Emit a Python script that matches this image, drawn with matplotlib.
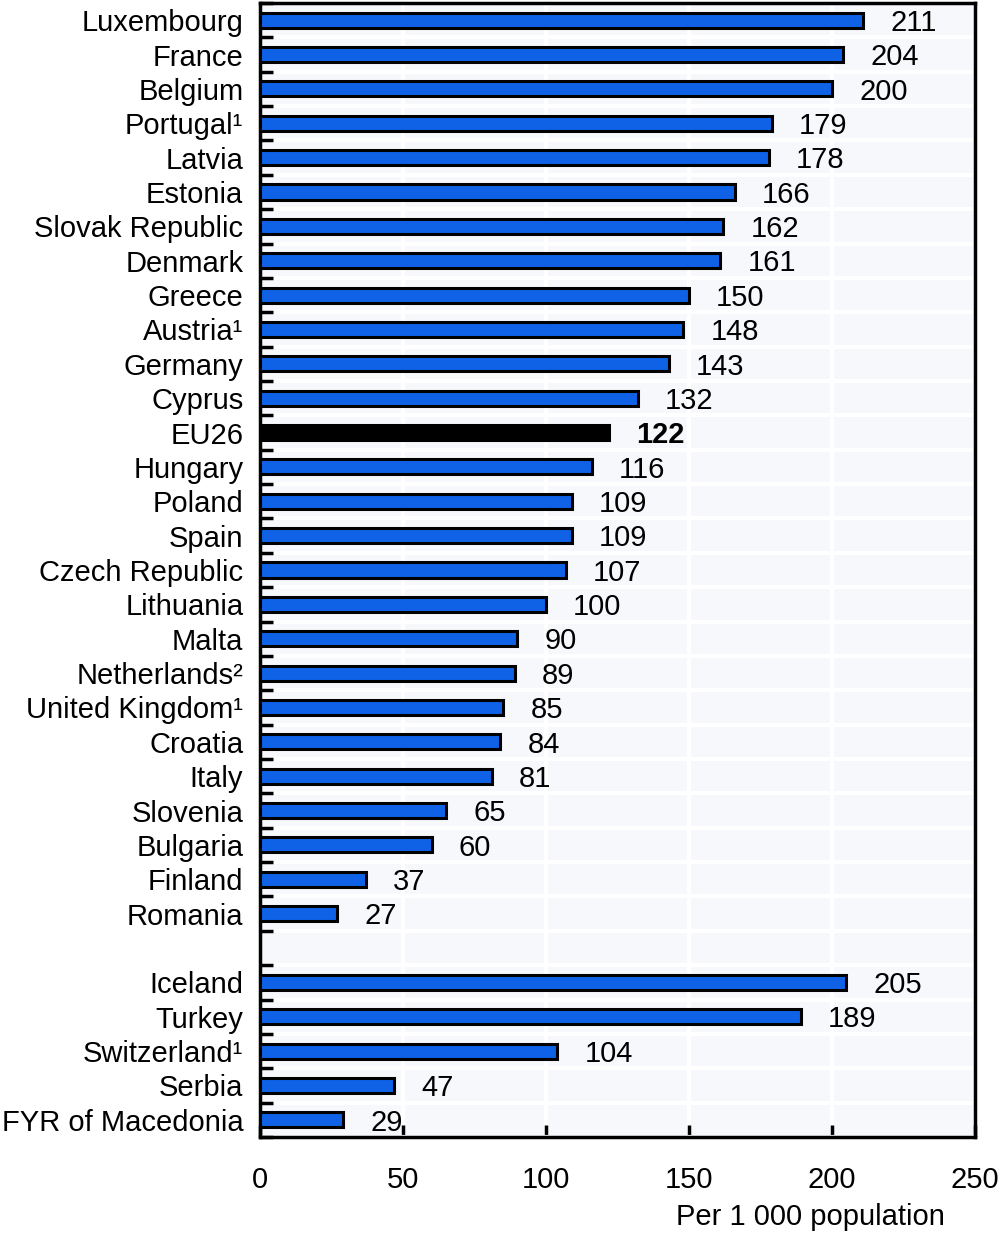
import matplotlib
matplotlib.use("Agg")
import matplotlib.pyplot as plt
from matplotlib import font_manager as fm
import numpy as np

names = [f.name for f in fm.fontManager.ttflist]
fam = "Liberation Sans Narrow" if "Liberation Sans Narrow" in names else "Liberation Sans"
plt.rcParams['font.family'] = [fam, 'DejaVu Sans']
FS = 21 if fam == "Liberation Sans" else 24

eu_countries = ["Luxembourg", "France", "Belgium", "Portugal¹", "Latvia", "Estonia",
                "Slovak Republic", "Denmark", "Greece", "Austria¹", "Germany", "Cyprus",
                "EU26", "Hungary", "Poland", "Spain", "Czech Republic", "Lithuania", "Malta",
                "Netherlands²", "United Kingdom¹", "Croatia", "Italy", "Slovenia", "Bulgaria",
                "Finland", "Romania"]
eu_values = [211, 204, 200, 179, 178, 166, 162, 161, 150, 148, 143, 132, 122, 116, 109,
             109, 107, 100, 90, 89, 85, 84, 81, 65, 60, 37, 27]
other_countries = ["Iceland", "Turkey", "Switzerland¹", "Serbia", "FYR of Macedonia"]
other_values = [205, 189, 104, 47, 29]
xticks = [0, 50, 100, 150, 200, 250]

labels = eu_countries + [""] + other_countries
values = eu_values + [None] + other_values
n = len(labels)
pos = np.arange(n)

fig = plt.figure(figsize=(10, 12.35), dpi=100)
ax = fig.add_axes([0.26, 1 - 1137/1235, 0.715, (1137 - 3)/1235])
ax.set_facecolor("#f7f8fc")

blue = "#0f62e6"
for p, lab, v in zip(pos, labels, values):
    if v is None:
        continue
    is_eu = lab == "EU26"
    ax.barh(p, v, height=0.44, color="black" if is_eu else blue,
            edgecolor="black", linewidth=2.2, zorder=3)
    ax.text(v + 9.5, p + 0.08, str(v), va="center", ha="left", fontsize=FS,
            fontweight="bold" if is_eu else "normal", zorder=4)

ax.set_ylim(n - 0.5, -0.5)
ax.set_xlim(0, 250)
ax.set_yticks(pos)
ax.set_yticklabels(labels, fontsize=FS)
ax.tick_params(axis="y", which="major", length=0, pad=12)
ax.set_yticks(np.arange(-0.5, n, 1), minor=True)
ax.tick_params(axis="y", which="minor", direction="in", length=9, width=2.5, color="black")

ax.set_xticks(xticks)
ax.set_xticklabels([str(x) for x in xticks], fontsize=FS)
ax.tick_params(axis="x", direction="in", length=9, width=2.5, pad=21)

ax.grid(axis="x", color="white", linewidth=3, zorder=1)
ax.grid(axis="y", which="minor", color="white", linewidth=3, zorder=1)
ax.set_axisbelow(True)

for s in ax.spines.values():
    s.set_linewidth(2.5)
    s.set_color("black")

fig.text(945/1000, 1 - 1217/1235, "Per 1 000 population", ha="right", va="center", fontsize=FS)

fig.savefig("out.png", dpi=100)
